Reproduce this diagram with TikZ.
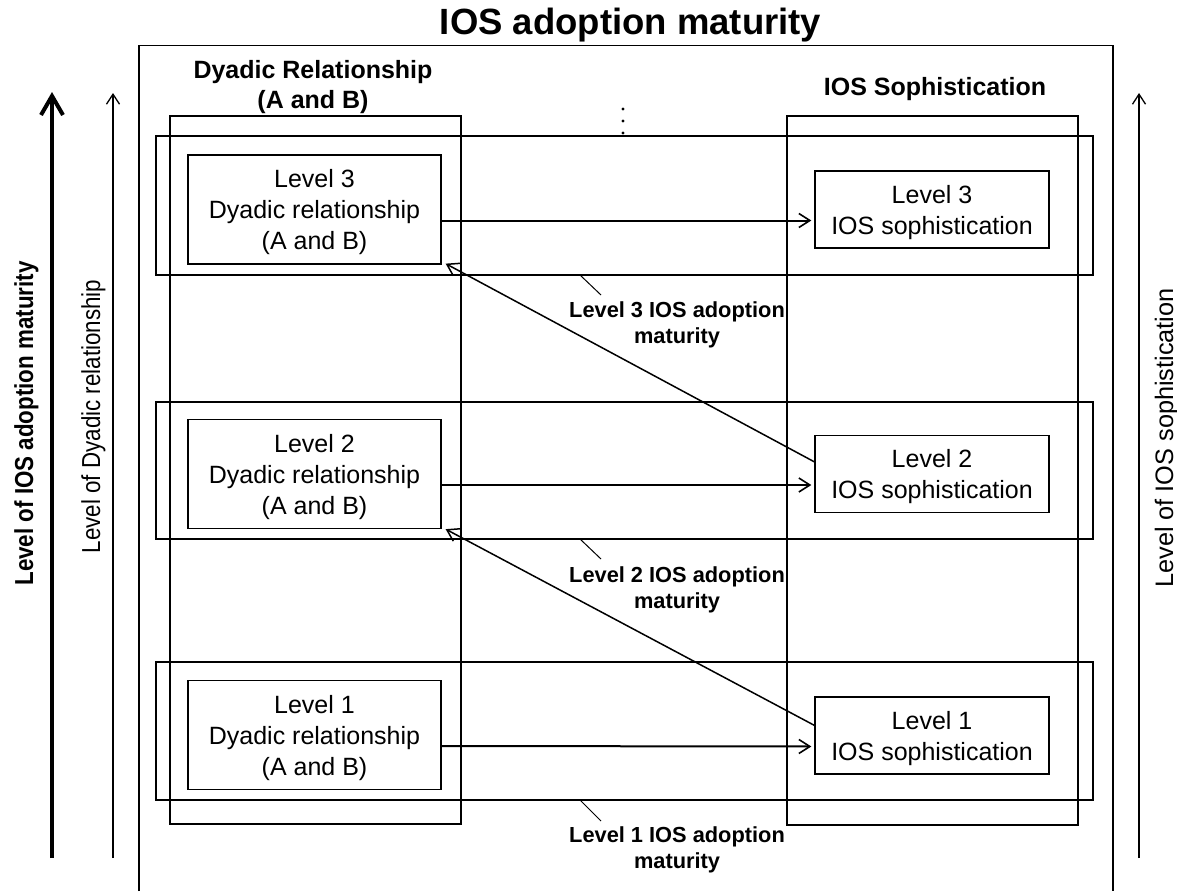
\documentclass[tikz,border=0pt]{standalone}
\usepackage{fontspec}
\setmainfont{Liberation Sans}
\usetikzlibrary{arrows.meta,calc}
\begin{document}
\begin{tikzpicture}[x=1pt,y=-1pt,
  frame/.style={draw=black, line width=1.3pt},
  dybox/.style={draw=black, line width=1.3pt, minimum width=253pt, minimum height=109pt, inner sep=0pt, text depth=0pt, align=center, font=\fontsize{25}{31}\selectfont},
  iosbox/.style={dybox, minimum width=234pt, minimum height=77pt},
  harrow/.style={line width=2pt, -{Straight Barb[length=11pt,width=14pt,line width=1.6pt]}, shorten >=3pt},
  darrow/.style={line width=1.5pt, -{Straight Barb[length=11pt,width=14pt,line width=1.5pt]}},
  varrow/.style={line width=1.3pt, -{Straight Barb[length=10pt,width=13pt,line width=1.3pt]}},
  thickarrow/.style={line width=4.5pt, -{Straight Barb[length=19pt,width=22pt,line width=4pt]}},
  hdr/.style={inner sep=0pt, align=center, font=\bfseries\fontsize{25}{30}\selectfont},
  lbl/.style={inner sep=0pt, align=center, font=\bfseries\fontsize{21.8}{26}\selectfont},
  leader/.style={line width=1pt},
]
\useasboundingbox (0,0) rectangle (1177,891);

% title
\node[inner sep=0pt, anchor=base, font=\bfseries\fontsize{36.5}{40}\selectfont] (title) at (630.5,35) {IOS adoption maturity};

% outer frame
\draw[frame] (139,891) -- (139,45.7) -- (1113,45.7) -- (1113,891);

% column frames
\draw[frame] (170,116) rectangle (461,824);
\draw[frame] (787,116) rectangle (1078,825);

% row frames
\draw[frame] (156,136) rectangle (1093,275);
\draw[frame] (156,402) rectangle (1093,539);
\draw[frame] (156,662) rectangle (1093,800);

% column headers
\node[hdr, anchor=north] (hdy) at (313,60) {Dyadic Relationship\\(A and B)};
\node[hdr, anchor=base] (hios) at (935,95) {IOS Sophistication};

% dots
\fill (623,109) circle (1.7pt);
\fill (623,121) circle (1.7pt);
\fill (623,133) circle (1.7pt);

% boxes
\node[dybox] (d3) at (314.5,209.5) {Level 3\\Dyadic relationship\\(A and B)};
\node[dybox] (d2) at (314.5,474) {Level 2\\Dyadic relationship\\(A and B)};
\node[dybox] (d1) at (314.5,735) {Level 1\\Dyadic relationship\\(A and B)};
\node[iosbox] (i3) at (932,209.5) {Level 3\\IOS sophistication};
\node[iosbox] (i2) at (932,474) {Level 2\\IOS sophistication};
\node[iosbox] (i1) at (932,735.5) {Level 1\\IOS sophistication};

% horizontal arrows
\draw[harrow] ($(d3.east)+(0,11)$) -- ($(i3.west)+(0,11)$);
\draw[harrow] ($(d2.east)+(0,11)$) -- ($(i2.west)+(0,11)$);
\draw[harrow] ($(d1.east)+(0,11)$) -- ($(i1.west)+(0,11)$);

% diagonal arrows
\draw[darrow] ($(i2.north west)+(0,27)$) -- ($(d3.south east)+(4,-1)$);
\draw[darrow] ($(i1.north west)+(0,29)$) -- ($(d2.south east)+(4,0)$);

% maturity labels with leader lines
\node[lbl, anchor=north] (l3) at (677,301) {Level 3 IOS adoption\\maturity};
\node[lbl, anchor=north] (l2) at (677,566) {Level 2 IOS adoption\\maturity};
\node[lbl, anchor=north] (l1) at (677,826) {Level 1 IOS adoption\\maturity};
\coordinate (c3a) at (580,275); \coordinate (c3b) at (601,295);
\coordinate (c2a) at (580,539); \coordinate (c2b) at (601,559);
\coordinate (c1a) at (580,800); \coordinate (c1b) at (601,821);
\draw[leader] (c3a) -- (c3b);
\draw[leader] (c2a) -- (c2b);
\draw[leader] (c1a) -- (c1b);

% side arrows
\coordinate (tb) at (52,858); \coordinate (tt) at (52,92);
\draw[thickarrow] (tb) -- (tt);
\coordinate (lb) at (113,858); \coordinate (lt) at (113,93);
\draw[varrow] (lb) -- (lt);
\coordinate (rb) at (1139,858); \coordinate (rt) at (1139,93);
\draw[varrow] (rb) -- (rt);

% side texts
\node[rotate=90, xscale=0.86, anchor=base, inner sep=0pt, font=\bfseries\fontsize{26}{30}\selectfont] (tadop) at (33,423.5) {Level of IOS adoption maturity};
\node[rotate=90, xscale=0.86, anchor=base, inner sep=0pt, font=\fontsize{26}{30}\selectfont] (tdy) at (100,416.5) {Level of Dyadic relationship};
\node[rotate=90, anchor=base, inner sep=0pt, font=\fontsize{25.3}{30}\selectfont] (tios) at (1173,438) {Level of IOS sophistication};
\end{tikzpicture}
\end{document}
